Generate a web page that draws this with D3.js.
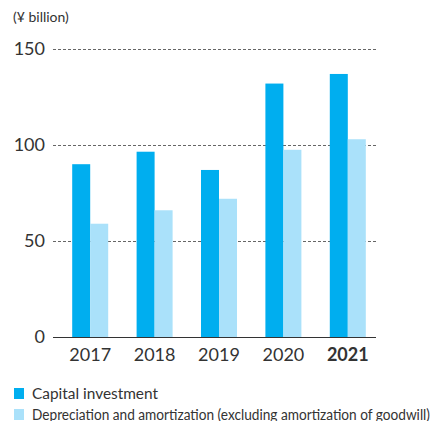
<!DOCTYPE html>
<html>
<head>
<meta charset="utf-8">
<script src="https://cdn.jsdelivr.net/npm/d3@7"></script>
<style>
  body { margin: 0; background: #fff; }
  svg text { font-family: Lato, "Noto Sans", sans-serif; fill: #333; }
</style>
</head>
<body>
<svg></svg>
<script>
// chart data
var years = ["2017", "2018", "2019", "2020", "2021"];
var capitalInvestment = [90, 96.5, 87, 132, 137];
var depreciation = [59, 66, 72, 97.5, 103];
var yTicks = [0, 50, 100, 150];
var seriesNames = ["Capital investment", "Depreciation and amortization (excluding amortization of goodwill)"];
var seriesColors = ["#00aeef", "#aae1fa"];

var screen = {width: 435, height: 421};

var svg = d3.select("svg")
    .attr("width", screen.width)
    .attr("height", screen.height);

//scales
var yScale = d3.scaleLinear()
    .domain([0, 150])
    .range([337, 49]);

var xScale = d3.scaleBand()
    .domain(years)
    .range([58, 380]);

var subScale = d3.scaleBand()
    .domain([0, 1])
    .range([xScale.bandwidth()/2 - 18, xScale.bandwidth()/2 + 18]);

//gridlines
svg.append("g")
    .selectAll("line")
    .data(yTicks.filter(function(t){return t > 0;}))
    .enter()
    .append("line")
    .attr("x1", 53)
    .attr("x2", 376)
    .attr("y1", function(t){return yScale(t) + 0.5;})
    .attr("y2", function(t){return yScale(t) + 0.5;})
    .attr("stroke", "#666")
    .attr("stroke-width", 1)
    .attr("stroke-dasharray", "3,2");

//bars
var groups = svg.append("g")
    .selectAll("g")
    .data(years)
    .enter()
    .append("g")
    .attr("transform", function(y){return "translate(" + xScale(y) + ",0)";});

groups.selectAll("rect")
    .data(function(y, i){return [capitalInvestment[i], depreciation[i]];})
    .enter()
    .append("rect")
    .attr("x", function(v, j){return subScale(j);})
    .attr("width", subScale.bandwidth())
    .attr("y", function(v){return yScale(v);})
    .attr("height", function(v){return yScale(0) - yScale(v);})
    .attr("fill", function(v, j){return seriesColors[j];});

//baseline
svg.append("line")
    .attr("x1", 53)
    .attr("x2", 376)
    .attr("y1", yScale(0) + 0.5)
    .attr("y2", yScale(0) + 0.5)
    .attr("stroke", "#333")
    .attr("stroke-width", 1);

//y labels
svg.append("g")
    .selectAll("text")
    .data(yTicks)
    .enter()
    .append("text")
    .text(function(t){return t;})
    .attr("x", 45)
    .attr("y", function(t){return yScale(t) + 6;})
    .attr("text-anchor", "end")
    .style("font-size", "18px");

svg.append("text")
    .text("(¥ billion)")
    .attr("x", 13)
    .attr("y", 22)
    .style("font-size", "14px");

//x labels
svg.append("g")
    .selectAll("text")
    .data(years)
    .enter()
    .append("text")
    .text(function(y){return y;})
    .attr("x", function(y){return xScale(y) + xScale.bandwidth()/2;})
    .attr("y", 361)
    .attr("text-anchor", "middle")
    .style("font-size", "18px")
    .style("font-weight", function(y, i){return i == years.length - 1 ? "bold" : "normal";});

//legend
var legend = svg.append("g")
    .selectAll("g")
    .data(seriesNames)
    .enter()
    .append("g")
    .attr("transform", function(n, i){return "translate(14," + (388 + i*21) + ")";});

legend.append("rect")
    .attr("width", 10)
    .attr("height", 11)
    .attr("fill", function(n, i){return seriesColors[i];});

//squeeze legend texts to the widths they take in the original
var legendWidths = [126, 398];
legend.append("text")
    .text(function(n){return n;})
    .attr("x", 18)
    .attr("y", 11)
    .attr("textLength", function(n, i){return legendWidths[i];})
    .attr("lengthAdjust", "spacingAndGlyphs")
    .style("font-size", "14.5px");
</script>
</body>
</html>
